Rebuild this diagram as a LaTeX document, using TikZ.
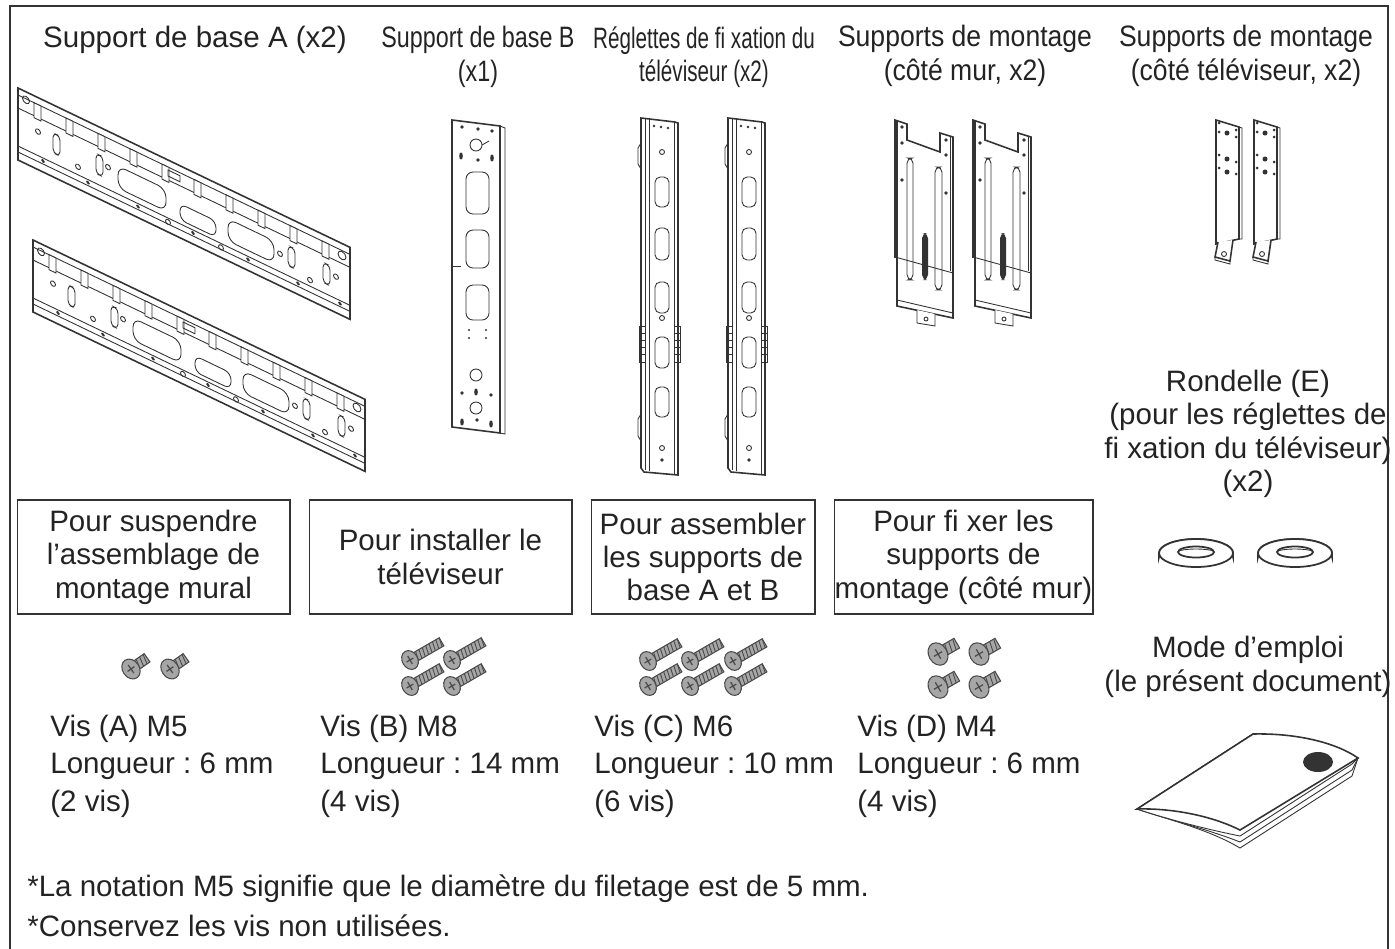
\documentclass[tikz,border=0pt]{standalone}
\usepackage{fontspec}
\setmainfont{Liberation Sans}
\usepackage{graphicx}
\usetikzlibrary{positioning}
\frenchspacing
\definecolor{ink}{HTML}{232323}
\definecolor{partline}{HTML}{333333}
\definecolor{screwfill}{HTML}{A6A6A6}
\definecolor{screwline}{HTML}{4A4A4A}
\newcommand{\txt}{\fontsize{16.8}{19}\selectfont}
\newcommand{\vistxt}{\fontsize{16.8}{21.4}\selectfont}
\newcommand{\squeeze}[2]{\scalebox{#1}[1]{#2}}

\tikzset{
  part/.style={draw=partline, line width=0.5pt},
  partthick/.style={draw=partline, line width=0.9pt, fill=white},
  % one screw, head at the origin, shank along x
  pics/screw/.style={code={
    \fill[screwfill] (2,-3.6) rectangle (#1,3.6);
    \draw[screwline, line width=0.6pt] (2,-3.6) -- (#1,-3.6) -- (#1,3.6) -- (2,3.6);
    \foreach \t in {7,10,...,#1} \draw[screwline, line width=0.5pt] (\t,-3.6) -- (\t-1.5,3.6);
    \filldraw[fill=screwfill, draw=screwline, line width=0.6pt] (0,0) ellipse [x radius=6, y radius=7.6];
    \draw[screwline, line width=0.7pt] (-3,0) -- (3,0) (0,-3.5) -- (0,3.5);
  }},
  % long base plate A, drawn straight, slanted when placed
  pics/basea/.style={code={
    \draw[partthick] (0,0) -- (332,0) -- (332,72) -- (0,72) -- cycle;
    \draw[part] (0,7) -- (332,7);
    \draw[part] (0,20) -- (332,20);
    \draw[part] (0,58) -- (332,58);
    \draw[part] (0,64) -- (332,64);
    \foreach \u in {16,48,...,316} \draw[part, fill=white] (\u,7) rectangle (\u+7,22);
    \foreach \u in {35,78,270,305} \draw[part, rounded corners=2.5] (\u,28) rectangle (\u+7,48);
    \draw[part, rounded corners=5] (100,30) rectangle (148,52);
    \draw[part, rounded corners=4] (162,38) rectangle (198,54);
    \draw[part, rounded corners=5] (210,30) rectangle (256,52);
    \foreach \u/\v in {20/34,60/50,90/36,150/62,203/62,262/40,292/52,318/36} \draw[part] (\u,\v) circle (2.5);
    \foreach \u in {25,70,120,175,230,280,322} \fill[partline] (\u,61) circle (1.8);
    \draw[part] (8,8) circle (3.5);
    \draw[part] (324,12) circle (4);
    \draw[part] (150,10) rectangle (162,16);
  }},
  % vertical TV rail
  pics/tvrail/.style={code={
    \draw[partthick] (0,0) -- (34,4) -- (37,5) -- (37,357) -- (3,354) -- (0,350) -- cycle;
    \draw[part] (4,1) -- (4,352);
    \draw[part] (8,2) -- (8,353);
    \draw[part] (33,4) -- (33,356);
    \foreach \a/\b in {59/89,110/142,164/195,219/250,269/299} \draw[part, rounded corners=3] (14,\a) rectangle (28,\b);
    \foreach \v in {34,200,330} \draw[part] (21,\v) circle (2.5);
    \fill[partline] (21,342) circle (1.8);
    \foreach \u/\v in {13/8,20/9,27/10} \fill[partline] (\u,\v) circle (1.3);
    \draw[part] (0,25) -- (-3,30) -- (-3,46) -- (0,51);
    \draw[part] (0,296) -- (-3,301) -- (-3,318) -- (0,323);
    \draw[part] (-2,208) rectangle (4,244);
    \draw[part] (33,208) rectangle (39,244);
    \foreach \v in {215,222,229,236} \draw[part] (-2,\v) -- (4,\v) (33,\v) -- (39,\v);
  }},
  % mounting bracket, wall side
  pics/wallplate/.style={code={
    \draw[partthick] (0,2) -- (12,6) -- (12,22) -- (45,34) -- (45,15) -- (58,19) -- (58,200) -- (2,188) -- (2,139) -- (0,139) -- cycle;
    \draw[part, line width=1.2pt] (2,3) -- (2,139);
    \draw[part] (55,18) -- (55,153);
    \draw[part] (0,139) -- (58,155);
    \draw[part] (2,182) -- (58,195);
    \draw[part, fill=white] (22,192) -- (22,205) -- (40,208) -- (40,196);
    \draw[part] (31,201) circle (2);
    \draw[part, rounded corners=3] (12,40) rectangle (18,162);
    \draw[part, rounded corners=3] (40,49) rectangle (47,172);
    \fill[partline, rounded corners=3] (27,115) rectangle (33,162);
    \foreach \u/\v in {7/9,7/25,7/62,51/22,51/37,51/75} \fill[partline] (\u,\v) circle (1.8);
  }},
  % mounting bracket, TV side
  pics/tvstrap/.style={code={
    \draw[partthick] (2,2) -- (25,9) -- (25,121) -- (2,126) -- cycle;
    \draw[part] (25,9) -- (28,10) -- (28,121) -- (25,121);
    \draw[partthick] (4,124) -- (1,139) -- (16,143) -- (19,122);
    \draw[part] (1,139) -- (1,142) -- (16,146) -- (16,143);
    \draw[part] (10,136) circle (2.5);
    \foreach \u/\v in {5/5,5/14,22/12,22/19,5/37,22/44,5/50,22/56} \fill[partline] (\u,\v) circle (1.5);
    \foreach \v in {15,41,54} \fill[partline] (13,\v) circle (2.5);
  }}
}

\begin{document}
\begin{tikzpicture}[x=0.02cm, y=-0.02cm]
\tikzstyle{every node}=[font=\txt, text=ink, inner sep=0pt]
\tikzstyle{heading}=[align=center]
\tikzstyle{usebox}=[draw=partline, line width=0.6pt, align=center, minimum height=2.28cm]
\tikzstyle{vislabel}=[font=\vistxt, align=left, anchor=west]
\tikzstyle{frame}=[draw=partline, line width=1.6pt]

\useasboundingbox (0,0) rectangle (1395,948);
\draw[frame] (10,6) rectangle (1388,980);

% headings
\node[heading] (hdbasea) at (195,40) {Support de base A (x2)};
\node[heading] (hdbaseb) at (478,57) {\squeeze{0.79}{Support de base B}\\\squeeze{0.79}{(x1)}};
\node[heading] (hdrails) at (704,57) {\squeeze{0.70}{Réglettes de fi xation du}\\\squeeze{0.70}{téléviseur (x2)}};
\node[heading] (hdwall) at (965,56) {\squeeze{0.9}{Supports de montage}\\\squeeze{0.9}{(côté mur, x2)}};
\node[heading] (hdtv) at (1246,56) {\squeeze{0.9}{Supports de montage}\\\squeeze{0.9}{(côté téléviseur, x2)}};

% parts
\pic[yslant=-0.48] at (18,88) {basea};
\pic[yslant=-0.48] at (33,240) {basea};

\draw[partthick] (452,120) -- (500,126) -- (500,433) -- (452,427) -- cycle;
\draw[part] (500,126) -- (505,128) -- (505,434) -- (500,433);
\foreach \u/\v in {462/127,478/129,492/131,478/160,462/393,491/395,477/420} \fill[partline] (\u,\v) circle (1.8);
\foreach \u/\v in {461/156,492/158,476/392,462/422,491/424} \fill[partline] (\u,\v) ellipse [x radius=1.8, y radius=3.6];
\foreach \v in {145,375,408} \draw[part] (476,\v) circle (6);
\draw[part] (482,145) -- (489,141);
\foreach \a/\b in {172/214,230/268,285/320} \draw[part, rounded corners=4] (466,\a) rectangle (489,\b);
\foreach \u/\v in {469/330,486/330,469/338,486/338} \fill[partline] (\u,\v) circle (1.2);
\draw[part] (452,266) -- (461,266);

\pic at (641,118) {tvrail};
\pic at (728,118) {tvrail};

\pic at (895,118) {wallplate};
\pic at (973,118) {wallplate};

\pic at (1214,118) {tvstrap};
\pic at (1252,118) {tvstrap};

% boxes
\node[usebox, minimum width=5.46cm] (boxhang) at (153.5,557) {Pour suspendre\\l’assemblage de\\montage mural};
\node[usebox, minimum width=5.26cm] (boxtv) at (440.5,557) {Pour installer le\\téléviseur};
\node[usebox, minimum width=4.48cm] (boxbase) at (703,557) {Pour assembler\\les supports de\\base A et B};
\node[usebox, minimum width=5.18cm] (boxwall) at (963.5,557) {Pour fi xer les\\supports de\\montage (côté mur)};

% screws
\foreach \u in {131,170} \pic[rotate=35, scale=1.4] at (\u,669) {screw=14};
\foreach \u in {410,452} \foreach \v in {660,686} \pic[rotate=30, scale=1.3] at (\u,\v) {screw=28};
\foreach \u in {648,690,733} \foreach \v in {661,686} \pic[rotate=30, scale=1.3] at (\u,\v) {screw=28};
\foreach \u in {938,979} \foreach \v in {654,687} \pic[rotate=30, scale=1.55] at (\u,\v) {screw=14};

\node[vislabel] (visa) at (50,766) {Vis (A) M5\\Longueur : 6 mm\\(2 vis)};
\node[vislabel] (visb) at (320,766) {Vis (B) M8\\Longueur : 14 mm\\(4 vis)};
\node[vislabel] (visc) at (594,766) {Vis (C) M6\\Longueur : 10 mm\\(6 vis)};
\node[vislabel] (visd) at (857,766) {Vis (D) M4\\Longueur : 6 mm\\(4 vis)};

% washers
\node[heading] (rondelle) at (1248,434) {Rondelle (E)\\(pour les réglettes de\\fi xation du téléviseur)\\(x2)};
\foreach \u in {1196,1295} {
  \draw[part, line width=1pt] (\u-37,553) arc[start angle=180, end angle=360, x radius=37, y radius=14] -- ++(0,4) arc[start angle=0, end angle=-180, x radius=37, y radius=14] -- cycle;
  \draw[part, line width=1pt, fill=white] (\u,553) ellipse [x radius=37, y radius=14];
  \draw[part, line width=1pt] (\u,552) ellipse [x radius=18, y radius=5.5];
  \draw[part] (\u-18,552) arc[start angle=180, end angle=360, x radius=18, y radius=3];
}

% manual
\node[heading] (manual) at (1248,667) {Mode d’emploi\\(le présent document)};
\foreach \d in {18,12,6} \draw[part, fill=white] (1137,809) .. controls (1170,820) and (1210,830) .. (1240,830+\d) -- (1352,758+\d) -- (1358,758) -- (1253,734) -- cycle;
\draw[partthick] (1137,809) -- (1253,734) .. controls (1295,733) and (1335,742) .. (1358,758) -- (1240,830) .. controls (1210,815) and (1170,808) .. cycle;
\fill[partline] (1318,762) ellipse [x radius=15, y radius=10];

% notes
\node[anchor=west] (note1) at (27,889) {*La notation M5 signifie que le diamètre du filetage est de 5 mm.};
\node[anchor=west] (note2) at (27,926) {*Conservez les vis non utilisées.};
\end{tikzpicture}
\end{document}
